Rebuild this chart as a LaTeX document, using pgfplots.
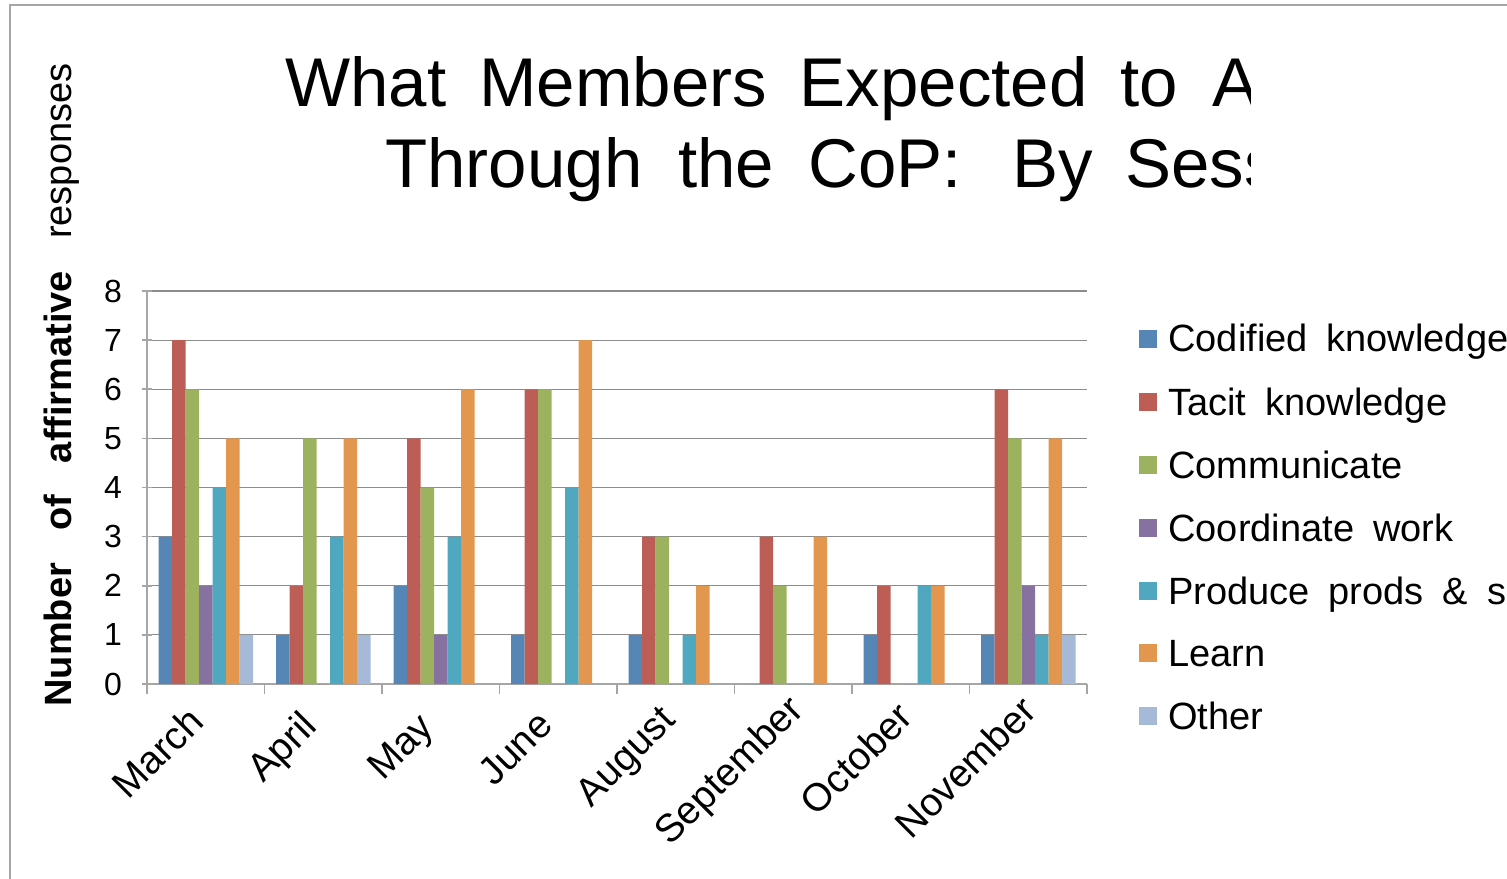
\documentclass[border=0pt]{standalone}
\usepackage{fontspec}
\setmainfont{Liberation Sans}
\usepackage{pgfplots}
\pgfplotsset{compat=1.18}
\definecolor{c1}{RGB}{85,134,181}
\definecolor{c2}{RGB}{188,94,86}
\definecolor{c3}{RGB}{156,178,94}
\definecolor{c4}{RGB}{135,113,160}
\definecolor{c5}{RGB}{80,168,192}
\definecolor{c6}{RGB}{226,150,78}
\definecolor{c7}{RGB}{166,186,216}
\newcommand\lbl[1]{\setbox0\hbox{#1}\makebox[0.79\wd0][l]{#1}}
\begin{document}
\begin{tikzpicture}
\clip (0,0) rectangle (753.5pt,439pt);
\draw[black!35, line width=0.6pt] (5pt,-5pt) -- (5pt,436.5pt) -- (760pt,436.5pt);
\begin{scope}
\clip (0,0) rectangle (625pt,439pt);
\node[anchor=base west, inner sep=0pt, font=\fontsize{34.5pt}{40pt}\selectfont] at (142.5pt,385.5pt) {What\hspace{16.5pt}Members\hspace{16.5pt}Expected\hspace{16.5pt}to\hspace{17pt}Accomplish};
\node[anchor=base west, inner sep=0pt, font=\fontsize{34.5pt}{40pt}\selectfont] at (192.5pt,345pt) {Through\hspace{18pt}the\hspace{17pt}CoP:\hspace{25.5pt}By\hspace{16pt}Session};
\end{scope}
\node[rotate=90, inner sep=0pt, font=\fontsize{19pt}{22pt}\selectfont] at (31pt,246.5pt) {\bfseries Number\hspace{16pt}of\hspace{16pt}affirmative\hspace{16pt}\mdseries responses};
\begin{axis}[
  at={(73.5pt,97pt)}, anchor=south west,
  scale only axis, width=470pt, height=196.5pt,
  xmin=-0.5, xmax=7.5, ymin=0, ymax=8,
  ybar=0pt, bar width=6.75pt,
  xtick={-0.5,0.5,...,7.5},
  x tick label as interval,
  xticklabels={\lbl{March},\lbl{April},\lbl{May},\lbl{June},\lbl{August},\lbl{September},\lbl{October},\lbl{November}},
  ytick={0,...,8},
  axis x line*=bottom, axis y line*=left,
  axis line style={black!35, line width=0.8pt, -},
  tick align=outside, major tick length=5pt,
  x tick style={black!35, line width=0.8pt},
  y tick style={black!35, line width=0.8pt, xshift=2.5pt},
  ymajorgrids, grid style={black!45, line width=0.6pt},
  /pgf/number format/assume math mode=true,
  yticklabel style={font=\fontsize{16pt}{19pt}\selectfont, xshift=-4pt},
  xticklabel style={font=\fontsize{19.5pt}{22pt}\selectfont, xshift=-13pt, yshift=-18pt, rotate=45, anchor=east, inner sep=0pt, text height=14pt, text depth=0pt},
  legend style={at={(1.0553,0.916)}, anchor=north west, draw=none, fill=none, inner sep=0pt,
    row sep=16.3pt, font=\fontsize{19pt}{22pt}\selectfont,
    nodes={inner sep=0pt, anchor=base west}},
  legend cell align=left,
  legend image code/.code={\fill[#1, draw=none] (0pt,2pt) rectangle (9pt,11pt); \path (14.5pt,0pt);},
]
\addplot[fill=c1, draw=none] coordinates {(0,3) (1,1) (2,2) (3,1) (4,1) (5,0) (6,1) (7,1)};
\addplot[fill=c2, draw=none] coordinates {(0,7) (1,2) (2,5) (3,6) (4,3) (5,3) (6,2) (7,6)};
\addplot[fill=c3, draw=none] coordinates {(0,6) (1,5) (2,4) (3,6) (4,3) (5,2) (6,0) (7,5)};
\addplot[fill=c4, draw=none] coordinates {(0,2) (1,0) (2,1) (3,0) (4,0) (5,0) (6,0) (7,2)};
\addplot[fill=c5, draw=none] coordinates {(0,4) (1,3) (2,3) (3,4) (4,1) (5,0) (6,2) (7,1)};
\addplot[fill=c6, draw=none] coordinates {(0,5) (1,5) (2,6) (3,7) (4,2) (5,3) (6,2) (7,5)};
\addplot[fill=c7, draw=none] coordinates {(0,1) (1,1) (2,0) (3,0) (4,0) (5,0) (6,0) (7,1)};
\legend{Codified\hspace{9.5pt}knowledge, Tacit\hspace{9.5pt}knowledge, Communicate, Coordinate\hspace{9.5pt}work, Produce\hspace{9.5pt}prods\hspace{9.5pt}\&\hspace{9.5pt}services, Learn, Other}
\end{axis}
\end{tikzpicture}
\end{document}
